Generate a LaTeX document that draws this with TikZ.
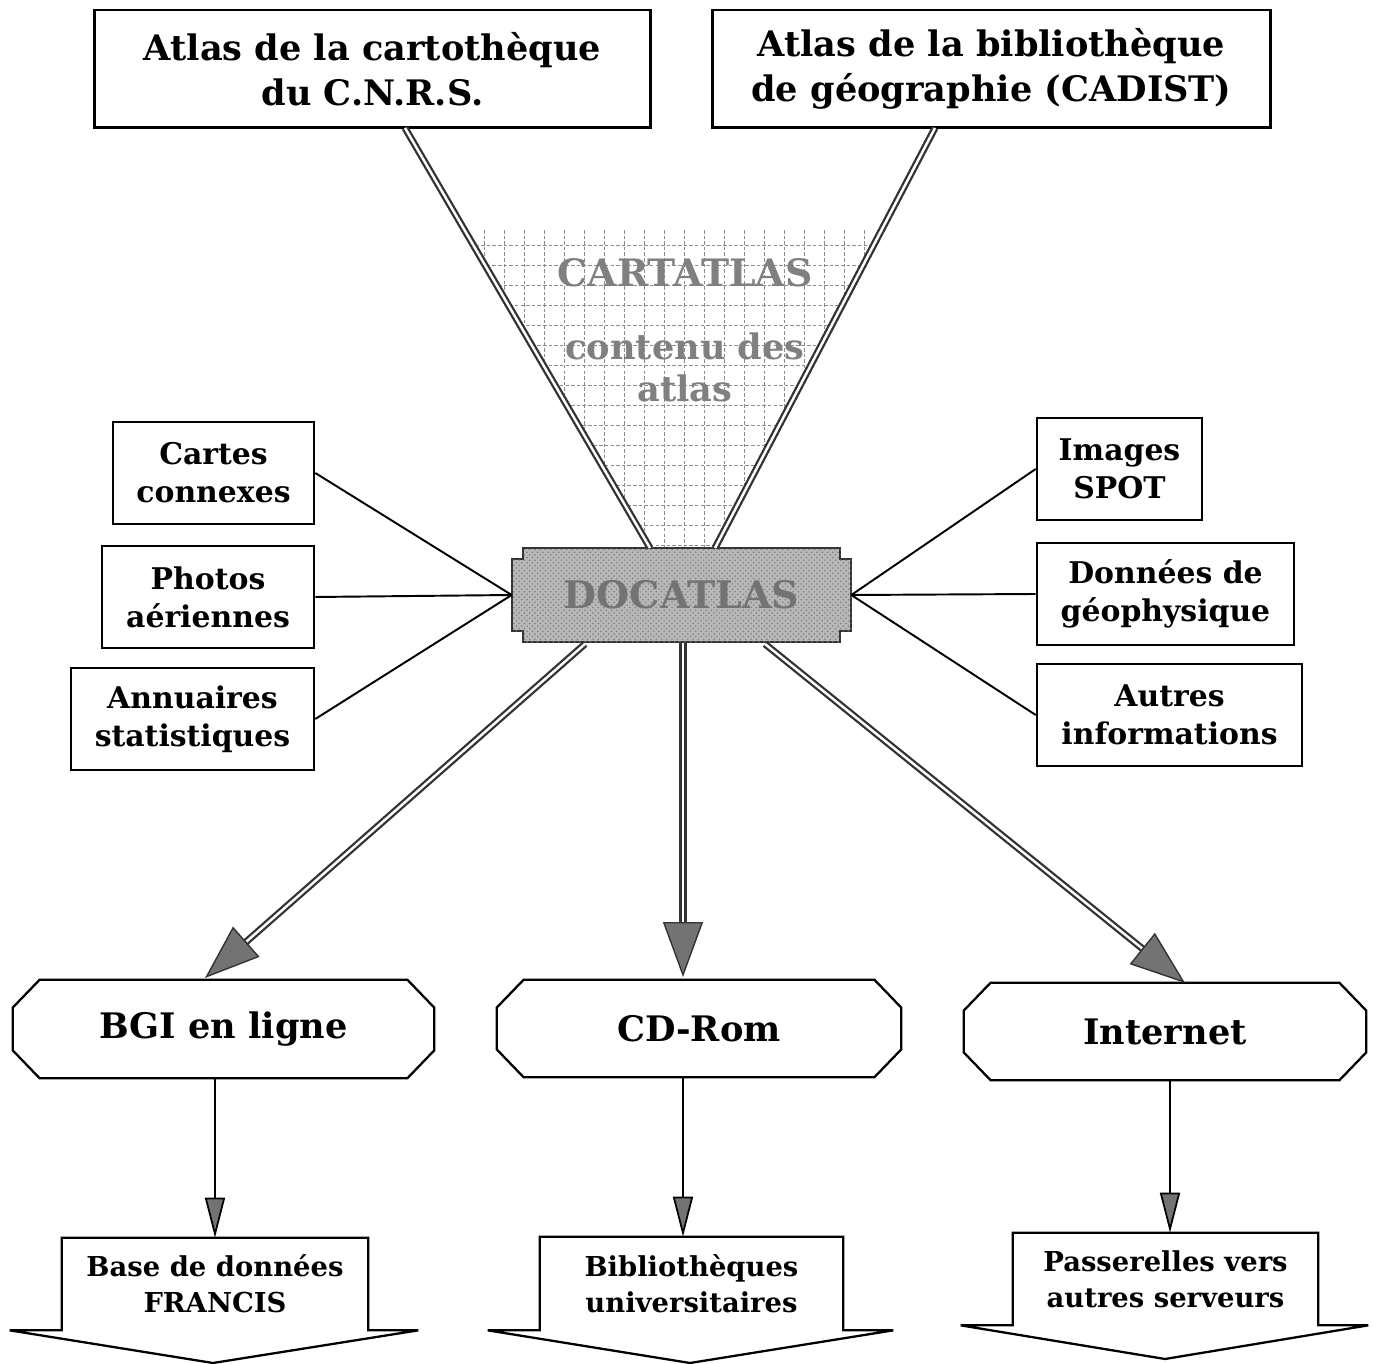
\documentclass[tikz,border=0pt]{standalone}
\usepackage{fontspec}
\setmainfont{DejaVu Serif}
\usetikzlibrary{arrows.meta,calc,patterns}
\begin{document}
\begin{tikzpicture}[x=0.02cm,y=-0.02cm,
  box/.style={draw=black, line width=1.5pt, fill=white, align=center, inner sep=0pt,
    font=\bfseries\fontsize{17}{21.5}\selectfont},
  topbox/.style={box, line width=1.7pt, font=\bfseries\fontsize{20}{25.5}\selectfont},
  ghost/.style={draw=none, inner sep=0pt, align=center},
  octtext/.style={ghost, font=\bfseries\fontsize{20}{24}\selectfont},
  bottext/.style={ghost, font=\bfseries\fontsize{15.6}{20.4}\selectfont},
  outline/.style={draw=black, line width=1.3pt, fill=white},
  dbl/.style={draw=black!80, line width=1.3pt, double=white, double distance=1.4pt},
  bigtip/.style={-{Triangle[length=1.1cm,width=0.8cm,fill=black!55]}, draw=black!80, line width=0.8pt},
  thinarrow/.style={-{Triangle[length=0.8cm,width=0.4cm,fill=black!55]}, draw=black, line width=1pt},
  link/.style={draw=black, line width=1.1pt},
  gridline/.style={draw=black!45, line width=0.55pt, dash pattern=on 2pt off 1.2pt},
  graytext/.style={ghost, text=black!50, font=\bfseries\fontsize{20}{24}\selectfont}
]
\useasboundingbox (0,0) rectangle (1374,1364);

% grid of CARTATLAS
\begin{scope}
  \clip (405,128) -- (935,128) -- (715,548) -- (650,548) -- cycle;
  \clip (478,230) rectangle (872,560);
  \foreach \gx in {484,504,...,864} \draw[gridline] (\gx,230) -- (\gx,560);
  \foreach \gy in {245,265,...,545} \draw[gridline] (470,\gy) -- (880,\gy);
\end{scope}
\node[graytext, font=\bfseries\fontsize{21.5}{24}\selectfont] (cart) at (685,273) {CARTATLAS};
\node[graytext] (cont) at (685,367) {contenu des\\atlas};

% top boxes
\node[topbox, minimum width=11.14cm, minimum height=2.36cm] (cnrs) at (372.5,69) {Atlas de la cartothèque\\du C.N.R.S.};
\node[topbox, minimum width=11.18cm, minimum height=2.36cm] (cadist) at (991.5,69) {Atlas de la bibliothèque\\de géographie (CADIST)};

% DOCATLAS
\node[ghost, minimum width=6.78cm, minimum height=1.88cm] (doc) at (681.5,595) {};
\draw[draw=black!80, line width=1.2pt, fill=black!28,
      postaction={pattern=crosshatch dots, pattern color=black!50}]
  ($(doc.north west)+(11,0)$) -- ($(doc.north east)+(-11,0)$) -- ++(0,11) -- ++(11,0)
  -- ($(doc.south east)+(0,-11)$) -- ++(-11,0) -- ++(0,11)
  -- ($(doc.south west)+(11,0)$) -- ++(0,-11) -- ++(-11,0)
  -- ($(doc.north west)+(0,11)$) -- ++(11,0) -- cycle;
\node[ghost, text=black!55, font=\bfseries\fontsize{21.6}{24}\selectfont] (doct) at (doc.center) {DOCATLAS};

% top double lines
\coordinate (c1) at (405,128);
\coordinate (c2) at (650,548);
\coordinate (c3) at (935,128);
\coordinate (c4) at (715,548);
\draw[dbl] (c1) -- (c2);
\draw[dbl] (c3) -- (c4);

% side boxes
\node[box, minimum width=4.02cm, minimum height=2.04cm] (cartes) at (213.5,473) {Cartes\\connexes};
\node[box, minimum width=4.24cm, minimum height=2.04cm] (photos) at (208,597) {Photos\\aériennes};
\node[box, minimum width=4.86cm, minimum height=2.04cm] (annu) at (192.5,719) {Annuaires\\statistiques};
\node[box, minimum width=3.3cm, minimum height=2.04cm] (spot) at (1119.5,469) {Images\\SPOT};
\node[box, minimum width=5.14cm, minimum height=2.04cm] (geo) at (1165.5,594) {Données de\\géophysique};
\node[box, minimum width=5.3cm, minimum height=2.04cm] (autres) at (1169.5,715) {Autres\\informations};

\draw[link] (cartes.east) -- (doc.west);
\draw[link] (photos.east) -- (doc.west);
\draw[link] (annu.east) -- (doc.west);
\draw[link] (spot.west) -- (doc.east);
\draw[link] (geo.west) -- (doc.east);
\draw[link] (autres.west) -- (doc.east);

% octagons
\node[octtext, minimum width=8.42cm, minimum height=1.96cm] (bgi) at (223.5,1029) {};
\node[octtext, minimum width=8.08cm, minimum height=1.94cm] (cd) at (699,1028.5) {};
\node[octtext, minimum width=8.04cm, minimum height=1.94cm] (inet) at (1165,1031.5) {};
\foreach \o in {bgi,cd,inet}{
  \draw[outline]
    ($(\o.north west)+(27,0)$) -- ($(\o.north east)+(-27,0)$) -- ($(\o.north east)+(0,28)$)
    -- ($(\o.south east)+(0,-28)$) -- ($(\o.south east)+(-27,0)$)
    -- ($(\o.south west)+(27,0)$) -- ($(\o.south west)+(0,-28)$)
    -- ($(\o.north west)+(0,28)$) -- cycle;
}
\node[octtext] at (bgi.center) {BGI en ligne};
\node[octtext] at (cd.center) {CD-Rom};
\node[octtext] at (inet.center) {Internet};

% big arrows
\coordinate (d1) at (585,644);
\coordinate (d2) at (683,643);
\coordinate (d3) at (765,644);
\coordinate (t1) at (205,978);
\coordinate (t2) at (683,977);
\coordinate (t3) at (1185,983);
\foreach \s/\t in {d1/t1,d2/t2,d3/t3}{
  \draw[dbl, shorten >=0.8cm] (\s) -- (\t);
  \draw[bigtip] ($(\t)!1.1cm!(\s)$) -- (\t);
}

% bottom arrow-shaped boxes
\node[bottext, minimum width=6.12cm, minimum height=1.84cm] (fr) at (215,1284) {Base de données\\FRANCIS};
\node[bottext, minimum width=6.06cm, minimum height=1.86cm] (bu) at (691.5,1283.5) {Bibliothèques\\universitaires};
\node[bottext, minimum width=6.1cm, minimum height=1.84cm] (pas) at (1165.5,1279) {Passerelles vers\\autres serveurs};
\foreach \b/\ax/\ay in {fr/213/1363, bu/690/1363, pas/1165/1359}{
  \draw[outline, fill=none]
    (\b.south west) -- (\b.north west) -- (\b.north east) -- (\b.south east)
    -- ++(50,0) -- (\ax,\ay) -- ($(\b.south west)+(-52,0)$) -- cycle;
}

% thin arrows
\draw[thinarrow] (bgi.south -| fr.north) -- (fr.north);
\draw[thinarrow] (cd.south -| 683,0) -- (bu.north -| 683,0);
\draw[thinarrow] (inet.south -| 1170,0) -- (pas.north -| 1170,0);
\end{tikzpicture}
\end{document}
